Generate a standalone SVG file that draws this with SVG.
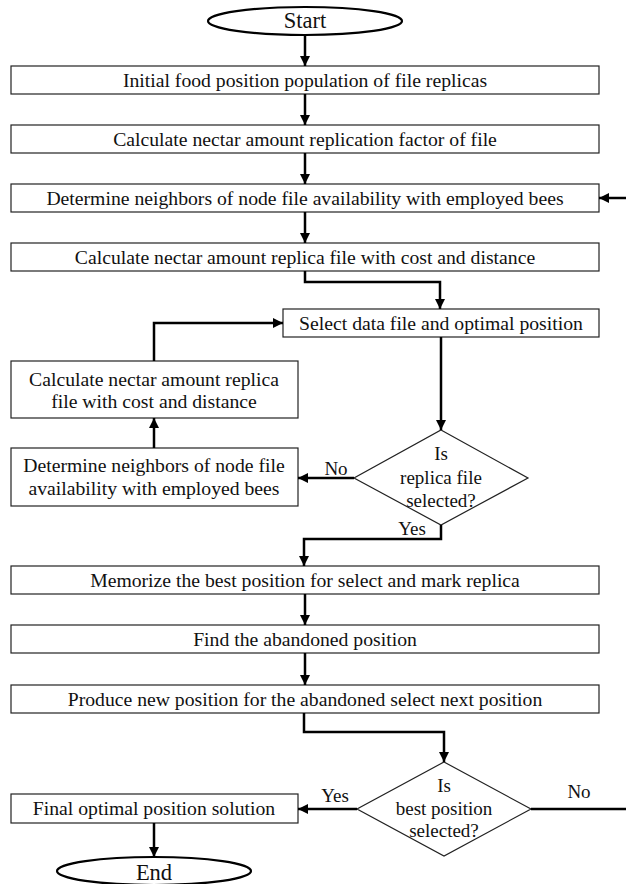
<svg xmlns="http://www.w3.org/2000/svg" width="626" height="884" viewBox="0 0 626 884">
<defs>
<marker id="ah" viewBox="0 0 10 10" refX="10" refY="5" markerWidth="10" markerHeight="10" markerUnits="userSpaceOnUse" orient="auto">
<path d="M0,0 L10,5 L0,10 Z" fill="#000"/>
</marker>
<style>
.box{fill:#fff;stroke:#222;stroke-width:1.2}
.term{fill:#fff;stroke:#000;stroke-width:2.2}
.t{font-family:"Liberation Serif","Times New Roman",serif;font-size:19.7px;fill:#111;text-anchor:middle}
.d{font-size:19px}
.big{font-size:22.5px}
.c{fill:none;stroke:#000;stroke-width:2.5}
</style>
</defs>
<rect width="626" height="884" fill="#fff"/>
<g id="start"><ellipse class="term" cx="305" cy="21" rx="97" ry="14"/><text class="t big" x="305" y="28">Start</text></g>
<g id="n1"><rect class="box" x="11" y="66" width="588" height="28"/><text class="t" x="305" y="86.5">Initial food position population of file replicas</text></g>
<g id="n2"><rect class="box" x="11" y="125" width="588" height="28"/><text class="t" x="305" y="145.5">Calculate nectar amount replication factor of file</text></g>
<g id="n3"><rect class="box" x="11" y="184" width="588" height="28"/><text class="t" x="305" y="204.5">Determine neighbors of node file availability with employed bees</text></g>
<g id="n4"><rect class="box" x="11" y="243" width="588" height="28"/><text class="t" x="305" y="263.5">Calculate nectar amount replica file with cost and distance</text></g>
<g id="n5"><rect class="box" x="283" y="309" width="316" height="28"/><text class="t" x="441" y="329.5">Select data file and optimal position</text></g>
<g id="n6"><rect class="box" x="11" y="361" width="287" height="57"/><text class="t" x="154" y="386">Calculate nectar amount replica</text><text class="t" x="154" y="408">file with cost and distance</text></g>
<g id="n7"><rect class="box" x="11" y="448" width="287" height="58"/><text class="t" x="154" y="472">Determine neighbors of node file</text><text class="t" x="154" y="495">availability with employed bees</text></g>
<g id="d1"><polygon class="box" points="441,430 528,478 441,525 354,478"/><text class="t d" x="441" y="460">Is</text><text class="t d" x="441" y="484">replica file</text><text class="t d" x="441" y="507">selected?</text></g>
<g id="n8"><rect class="box" x="11" y="566" width="588" height="28"/><text class="t" x="305" y="586.5">Memorize the best position for select and mark replica</text></g>
<g id="n9"><rect class="box" x="11" y="625" width="588" height="28"/><text class="t" x="305" y="645.5">Find the abandoned position</text></g>
<g id="n10"><rect class="box" x="11" y="685" width="588" height="28"/><text class="t" x="305" y="705.5">Produce new position for the abandoned select next position</text></g>
<g id="d2"><polygon class="box" points="444,762 531,809 444,856 357,809"/><text class="t d" x="444" y="792">Is</text><text class="t d" x="444" y="815">best position</text><text class="t d" x="444" y="837">selected?</text></g>
<g id="n11"><rect class="box" x="11" y="794" width="287" height="29"/><text class="t" x="154" y="815">Final optimal position solution</text></g>
<g id="end"><ellipse class="term" cx="154" cy="871" rx="97" ry="14"/><text class="t big" x="154" y="880">End</text></g>
<g id="connectors">
<path class="c" d="M305,35 V66" marker-end="url(#ah)"/>
<path class="c" d="M305,94 V125" marker-end="url(#ah)"/>
<path class="c" d="M305,153 V184" marker-end="url(#ah)"/>
<path class="c" d="M305,212 V243" marker-end="url(#ah)"/>
<path class="c" d="M626,198 H599" marker-end="url(#ah)"/>
<path class="c" d="M305,271 V282 H440 V309" marker-end="url(#ah)"/>
<path class="c" d="M154,361 V323 H283" marker-end="url(#ah)"/>
<path class="c" d="M154,448 V418" marker-end="url(#ah)"/>
<path class="c" d="M441,337 V430" marker-end="url(#ah)"/>
<path class="c" d="M354,478 H298" marker-end="url(#ah)"/>
<text class="t d" x="336" y="475">No</text>
<path class="c" d="M441,525 V539 H304 V566" marker-end="url(#ah)"/>
<text class="t d" x="412" y="535">Yes</text>
<path class="c" d="M305,594 V625" marker-end="url(#ah)"/>
<path class="c" d="M305,653 V685" marker-end="url(#ah)"/>
<path class="c" d="M304,713 V732 H444 V762" marker-end="url(#ah)"/>
<path class="c" d="M357,809 H298" marker-end="url(#ah)"/>
<text class="t d" x="335" y="802">Yes</text>
<path class="c" d="M531,809 H626"/>
<text class="t d" x="579" y="798">No</text>
<path class="c" d="M154,823 V857" marker-end="url(#ah)"/>
</g>
</svg>
